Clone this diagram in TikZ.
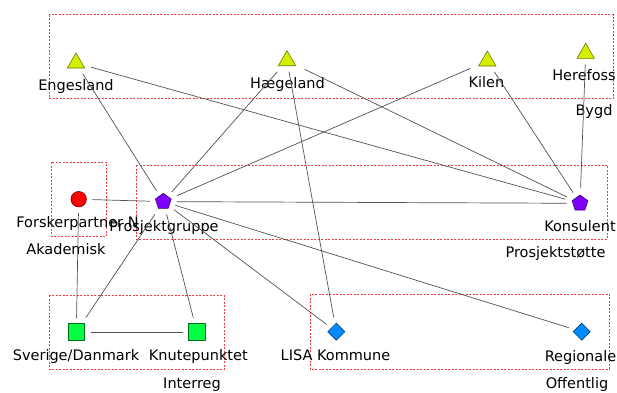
\documentclass[tikz,border=0pt]{standalone}
\usepackage{fontspec}
\setmainfont{DejaVu Sans}
\usetikzlibrary{shapes.geometric}

\definecolor{bygdfill}{RGB}{212,240,0}
\definecolor{bygdline}{RGB}{110,120,0}
\definecolor{akafill}{RGB}{255,0,0}
\definecolor{akaline}{RGB}{120,0,0}
\definecolor{prosfill}{RGB}{128,0,255}
\definecolor{prosline}{RGB}{60,0,120}
\definecolor{intfill}{RGB}{0,255,64}
\definecolor{intline}{RGB}{0,110,30}
\definecolor{offfill}{RGB}{0,140,255}
\definecolor{offline}{RGB}{0,60,120}
\definecolor{gruppered}{RGB}{245,60,60}

\begin{document}
\begin{tikzpicture}[x=1pt, y=-1pt,
    gruppe/.style={draw=gruppered, line width=1pt, dash pattern=on 2pt off 1.5pt},
    aktor/.style={draw, line width=0.6pt, inner sep=0pt, outer sep=6pt},
    bygd/.style={aktor, regular polygon, regular polygon sides=3, minimum size=20pt, fill=bygdfill, draw=bygdline},
    akademisk/.style={aktor, circle, minimum size=15.5pt, fill=akafill, draw=akaline},
    stotte/.style={aktor, regular polygon, regular polygon sides=5, minimum size=16.6pt, fill=prosfill, draw=prosline},
    interreg/.style={aktor, rectangle, minimum size=16.5pt, fill=intfill, draw=intline},
    offentlig/.style={aktor, regular polygon, regular polygon sides=4, shape border rotate=45, minimum size=17pt, fill=offfill, draw=offline},
    navn/.style={anchor=base, inner sep=0pt, font=\fontsize{14.5}{17}\selectfont},
    kant/.style={draw=black!68, line width=0.7pt}]

    \useasboundingbox (0,0) rectangle (617,392);

    % Groups
    \draw [gruppe] (49.3,14.7) rectangle (613.3,98.7);
    \draw [gruppe] (51.7,162) rectangle (106,236.7);
    \draw [gruppe] (136.7,165) rectangle (607.3,239.3);
    \draw [gruppe] (49.3,295) rectangle (224.3,369.3);
    \draw [gruppe] (310,294) rectangle (609.3,369.3);

    % Bygd
    \node [bygd] (engesland) at (76,63) {};
    \node [bygd] (haegeland) at (287,60.7) {};
    \node [bygd] (kilen) at (487.3,61) {};
    \node [bygd] (herefoss) at (585.7,53.3) {};
    \node [navn] (engesland-l) at (76,90) {Engesland};
    \node [navn] (haegeland-l) at (287.5,88) {Hægeland};
    \node [navn] (kilen-l) at (486.5,87.5) {Kilen};
    \node [navn] (herefoss-l) at (584,80.5) {Herefoss};
    \node [navn] (bygd-l) at (594,115.5) {Bygd};

        % Akademisk and Prosjektstøtte
        \node [akademisk] (forsker) at (78.7,199.2) {};
        \node [stotte] (prosjektgruppe) at (163.3,201.6) {};
        \node [stotte] (konsulent) at (580,203.3) {};
        \node [navn] (forsker-l) at (77.5,227.5) {Forskerpartner N};
        \node [navn] (prosjektgruppe-l) at (164,231.3) {Prosjektgruppe};
        \node [navn] (konsulent-l) at (580,231.6) {Konsulent};
        \node [navn] (akademisk-l) at (66,254.5) {Akademisk};
        \node [navn] (stotte-l) at (555.5,257.3) {Prosjektstøtte};

            % Interreg and Offentlig
            \node [interreg] (sverige) at (76.3,332) {};
            \node [interreg] (knutepunkt) at (197,332) {};
            \node [offentlig] (lisa) at (336.3,331.7) {};
            \node [offentlig] (regionale) at (581.7,331.7) {};
            \node [navn] (sverige-l) at (76,360.7) {Sverige/Danmark};
            \node [navn] (knutepunkt-l) at (198.3,360.7) {Knutepunktet};
            \node [navn] (lisa-l) at (335.5,360.7) {LISA Kommune};
            \node [navn] (regionale-l) at (580.5,361.3) {Regionale};
            \node [navn] (interreg-l) at (192,388.3) {Interreg};
            \node [navn] (offentlig-l) at (577,388.3) {Offentlig};

    % Ties between actors
    \foreach \a/\b in {engesland/prosjektgruppe, engesland/konsulent,
                       haegeland/prosjektgruppe, haegeland/lisa, haegeland/konsulent,
                       kilen/prosjektgruppe, kilen/konsulent, herefoss/konsulent,
                       forsker/prosjektgruppe, forsker/sverige,
                       prosjektgruppe/konsulent, prosjektgruppe/sverige,
                       prosjektgruppe/knutepunkt, prosjektgruppe/lisa,
                       prosjektgruppe/regionale, sverige/knutepunkt}
    {
        \draw [kant] (\a) -- (\b);
    }
\end{tikzpicture}
\end{document}
